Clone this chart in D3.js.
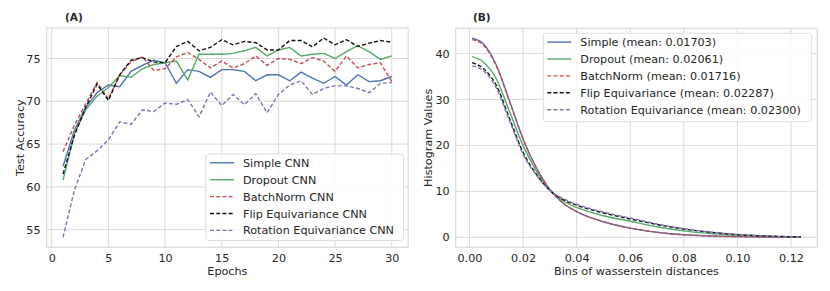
<!DOCTYPE html>
<html>
<head>
<meta charset="utf-8">
<script src="https://cdn.jsdelivr.net/npm/d3@7"></script>
<style>
  body { margin: 0; background: #fff; }
  svg { font-family: "DejaVu Sans", sans-serif; }
</style>
</head>
<body>
<svg id="chart" width="830" height="291"></svg>
<script>
// ---- panel A: test accuracy per epoch ----
const epochs = d3.range(1, 31);
const simpleAcc = [62.4, 66.6, 69.3, 71.0, 71.9, 71.7, 73.5, 74.2, 74.8, 74.5, 72.1, 73.7, 73.5, 72.8, 73.7,
                   73.7, 73.5, 72.4, 73.1, 73.1, 72.4, 73.4, 72.7, 72.1, 72.9, 71.9, 73.1, 72.3, 72.4, 72.9];
const dropoutAcc = [60.8, 66.2, 69.0, 70.6, 71.6, 73.0, 72.8, 73.8, 74.3, 74.5, 74.7, 72.5, 75.5, 75.5, 75.5,
                    75.6, 75.9, 76.3, 75.3, 76.0, 76.3, 75.3, 75.5, 75.6, 75.0, 75.8, 76.5, 75.8, 74.9, 75.3];
const batchnormAcc = [64.1, 67.2, 69.7, 72.2, 70.3, 73.1, 74.6, 75.2, 73.6, 73.8, 75.2, 75.7, 74.9, 73.9, 74.7,
                      73.9, 74.4, 75.3, 74.2, 75.0, 74.9, 74.4, 75.1, 74.7, 73.5, 75.3, 73.9, 74.3, 74.5, 72.3];
const flipAcc = [61.5, 66.0, 69.3, 72.0, 70.1, 73.1, 74.8, 75.1, 74.6, 74.5, 76.4, 77.0, 75.9, 76.3, 77.2,
                 76.6, 77.0, 76.85, 76.0, 76.0, 77.1, 77.1, 76.35, 77.4, 76.6, 77.2, 76.4, 76.8, 77.1, 76.9];
const rotationAcc = [54.1, 59.6, 63.2, 64.2, 65.5, 67.6, 67.3, 69.0, 68.8, 69.8, 69.65, 70.2, 68.2, 71.1, 69.5,
                     70.8, 69.6, 70.9, 68.65, 70.8, 71.9, 72.4, 70.8, 71.5, 71.8, 71.8, 71.5, 71.0, 72.1, 72.2];
const accNames = ["Simple CNN", "Dropout CNN", "BatchNorm CNN", "Flip Equivariance CNN", "Rotation Equivariance CNN"];

// ---- panel B: histogram of wasserstein distances ----
const bins = [0.001, 0.005, 0.01, 0.015, 0.02, 0.025, 0.03, 0.035, 0.04, 0.05, 0.06, 0.07, 0.08, 0.09, 0.10, 0.11, 0.1237];
const simpleHist = [43.3, 42.2, 37.5, 29.6, 21.4, 15.1, 10.4, 7.4, 5.6, 3.4, 2.0, 1.1, 0.55, 0.3, 0.15, 0.07, 0.03];
const dropoutHist = [39.3, 38.2, 34.5, 27.3, 20.0, 14.4, 10.3, 7.9, 6.5, 4.7, 3.5, 2.3, 1.4, 0.8, 0.4, 0.2, 0.05];
const batchnormHist = [43.0, 41.9, 37.3, 29.5, 21.4, 15.1, 10.4, 7.4, 5.6, 3.4, 2.0, 1.1, 0.55, 0.3, 0.15, 0.07, 0.03];
const flipHist = [38.0, 36.8, 33.1, 25.8, 18.5, 13.7, 10.2, 8.2, 7.0, 5.3, 4.0, 2.8, 1.8, 1.1, 0.6, 0.3, 0.1];
const rotationHist = [37.3, 36.3, 32.5, 25.3, 18.1, 13.5, 10.2, 8.4, 7.2, 5.5, 4.2, 2.9, 1.9, 1.15, 0.65, 0.32, 0.1];
const histNames = ["Simple (mean: 0.01703)", "Dropout (mean: 0.02061)", "BatchNorm (mean: 0.01716)",
                   "Flip Equivariance (mean: 0.02287)", "Rotation Equivariance (mean: 0.02300)"];

// seaborn-ish colours and dash styles
const colors = ["#4c72b0", "#55a868", "#c44e52", "#111111", "#8172b2"];
const dashes = [null, null, "4,2.2", "4,2.2", "4,2.2"];

const svg = d3.select("#chart");
const gridColor = "#dadada";
const textColor = "#262626";

// matplotlib-style 5% padding around the data extent
function padded(ext) {
    const m = (ext[1] - ext[0]) * 0.05;
    return [ext[0] - m, ext[1] + m];
}

function drawPanel(opt) {
    const g = svg.append("g");
    const x = d3.scaleLinear().domain(padded(d3.extent(opt.xs))).range([opt.left, opt.right]);
    const allY = opt.series.flat();
    const y = d3.scaleLinear().domain(padded([opt.yMin ?? d3.min(allY), d3.max(allY)])).range([opt.bottom, opt.top]);

    // grid
    g.selectAll(".gx").data(opt.xTicks).enter().append("line")
        .attr("x1", d => x(d)).attr("x2", d => x(d))
        .attr("y1", opt.top).attr("y2", opt.bottom)
        .attr("stroke", gridColor).attr("stroke-width", 1);
    g.selectAll(".gy").data(opt.yTicks).enter().append("line")
        .attr("y1", d => y(d)).attr("y2", d => y(d))
        .attr("x1", opt.left).attr("x2", opt.right)
        .attr("stroke", gridColor).attr("stroke-width", 1);
    // spines
    g.append("rect").attr("x", opt.left).attr("y", opt.top)
        .attr("width", opt.right - opt.left).attr("height", opt.bottom - opt.top)
        .attr("fill", "none").attr("stroke", gridColor).attr("stroke-width", 1.2);

    // axes with no tick marks
    const xAxis = g.append("g").attr("transform", `translate(0,${opt.bottom})`)
        .call(d3.axisBottom(x).tickValues(opt.xTicks).tickSize(0).tickPadding(7).tickFormat(opt.xFmt));
    const yAxis = g.append("g").attr("transform", `translate(${opt.left},0)`)
        .call(d3.axisLeft(y).tickValues(opt.yTicks).tickSize(0).tickPadding(6).tickFormat(d3.format("d")));
    [xAxis, yAxis].forEach(a => {
        a.select(".domain").remove();
        a.selectAll("text").attr("font-size", 11.2).attr("fill", textColor).attr("font-family", "DejaVu Sans");
    });

    // lines
    const line = d3.line().x((d, i) => x(opt.xs[i])).y(d => y(d)).curve(opt.curve);
    opt.series.forEach((s, k) => {
        g.append("path").datum(s)
            .attr("d", line)
            .attr("fill", "none")
            .attr("stroke", colors[k])
            .attr("stroke-width", 1.4)
            .attr("stroke-dasharray", dashes[k]);
    });

    // labels
    g.append("text").attr("x", (opt.left + opt.right) / 2).attr("y", opt.bottom + 27.5)
        .attr("text-anchor", "middle").attr("font-size", 11.2).attr("fill", textColor).text(opt.xLabel);
    g.append("text").attr("transform", `translate(${opt.yLabelX},${(opt.top + opt.bottom) / 2}) rotate(-90)`)
        .attr("text-anchor", "middle").attr("font-size", 11.2).attr("fill", textColor).text(opt.yLabel);
    g.append("text").attr("x", opt.titleX).attr("y", 21)
        .attr("font-size", 10.5).attr("font-weight", "bold").attr("fill", textColor).text(opt.title);

    // legend
    const L = opt.legend;
    g.append("rect").attr("x", L.x).attr("y", L.y).attr("width", L.w).attr("height", L.h)
        .attr("rx", 3).attr("fill", "#fff").attr("fill-opacity", 0.85)
        .attr("stroke", "#dddddd").attr("stroke-width", 1);
    opt.names.forEach((name, k) => {
        const cy = L.y + 8.8 + k * 16.9;
        g.append("line").attr("x1", L.x + 4).attr("x2", L.x + 28).attr("y1", cy).attr("y2", cy)
            .attr("stroke", colors[k]).attr("stroke-width", 1.4).attr("stroke-dasharray", dashes[k]);
        g.append("text").attr("x", L.x + 37).attr("y", cy + 4)
            .attr("font-size", 11.2).attr("fill", textColor).text(name);
    });
}

drawPanel({
    xs: epochs,
    series: [simpleAcc, dropoutAcc, batchnormAcc, flipAcc, rotationAcc],
    names: accNames,
    left: 46.6, right: 408.2, top: 28, bottom: 247.3,
    xTicks: [0, 5, 10, 15, 20, 25, 30], yTicks: [55, 60, 65, 70, 75],
    xFmt: d3.format("d"),
    curve: d3.curveLinear,
    xLabel: "Epochs", yLabel: "Test Accuracy", yLabelX: 23.5,
    title: "(A)", titleX: 65,
    legend: {x: 206, y: 154, w: 197.5, h: 86.5}
});

drawPanel({
    xs: bins,
    series: [simpleHist, dropoutHist, batchnormHist, flipHist, rotationHist],
    names: histNames,
    yMin: 0,
    left: 455.7, right: 817.3, top: 28.3, bottom: 247.3,
    xTicks: [0, 0.02, 0.04, 0.06, 0.08, 0.10, 0.12], yTicks: [0, 10, 20, 30, 40],
    xFmt: d3.format(".2f"),
    curve: d3.curveMonotoneX,
    xLabel: "Bins of wasserstein distances", yLabel: "Histogram Values", yLabelX: 432,
    title: "(B)", titleX: 473,
    legend: {x: 543.3, y: 33.3, w: 268.4, h: 88.4}
});
</script>
</body>
</html>
